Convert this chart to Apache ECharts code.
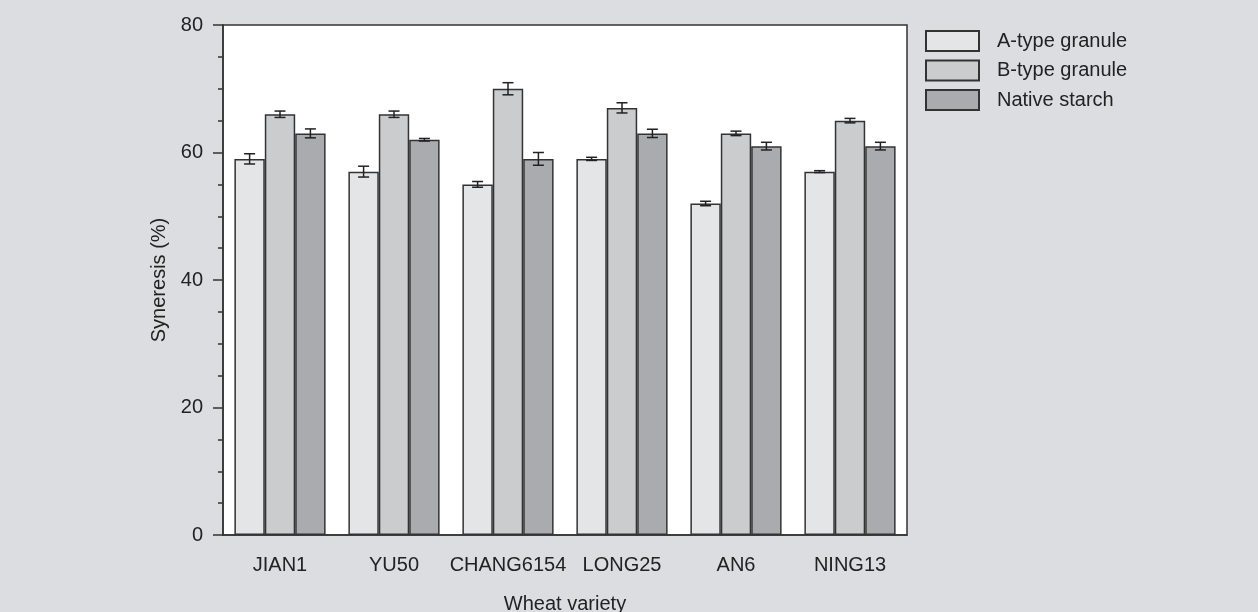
<!DOCTYPE html>
<html><head><meta charset="utf-8">
<script src="https://cdn.jsdelivr.net/npm/echarts@6/dist/echarts.min.js"></script>
<style>html,body{margin:0;padding:0;background:#dcdde0;} #c{width:1258px;height:612px;}</style>
</head><body><div id="c"></div>
<script>
const categories = ['JIAN1','YU50','CHANG6154','LONG25','AN6','NING13'];
const seriesNames = ['A-type granule','B-type granule','Native starch'];
const aType = [59,57,55,59,52,57];
const bType = [66,66,70,67,63,65];
const native = [63,62,59,63,61,61];
const aErr = [0.8,0.85,0.45,0.25,0.35,0.15];
const bErr = [0.5,0.5,0.95,0.8,0.35,0.35];
const nativeErr = [0.7,0.2,1.0,0.65,0.6,0.6];
const yMin = 0, yMax = 80, yStep = 20;

const FONT = "'Liberation Sans Narrow','Arial Narrow','Liberation Sans',Arial,sans-serif";
const FS = 20;
const colors = ['#e4e5e7','#cbccce','#aaabae'];
const values = [aType, bType, native];
const errs = [aErr, bErr, nativeErr];

function errRender(si){
  return function(params, api){
    const ci = api.value(0), v = api.value(1), e = api.value(2);
    const bandW = api.size([1,0])[0];
    const barW = bandW*0.8/3;
    const cx = api.coord([ci, v])[0] + (si-1)*barW;
    const yT = api.coord([ci, v+e])[1], yB = api.coord([ci, v-e])[1];
    const cap = 5.5;
    const st = {stroke:'#222', lineWidth:1.5};
    return {type:'group', children:[
      {type:'line', shape:{x1:cx,y1:yT,x2:cx,y2:yB}, style:st},
      {type:'line', shape:{x1:cx-cap,y1:yT,x2:cx+cap,y2:yT}, style:st},
      {type:'line', shape:{x1:cx-cap,y1:yB,x2:cx+cap,y2:yB}, style:st}
    ]};
  };
}

const series = [];
seriesNames.forEach((n,i)=>{
  series.push({name:n, type:'bar', data:values[i], barGap:'0%', barCategoryGap:'20%',
    itemStyle:{color:colors[i], borderColor:'#333', borderWidth:1.5}, silent:true});
});
seriesNames.forEach((n,i)=>{
  series.push({name:n+' err', type:'custom', renderItem:errRender(i), z:10, silent:true,
    encode:{x:0,y:1}, data:values[i].map((v,k)=>[k,v,errs[i][k]])});
});

const chart = echarts.init(document.getElementById('c'));
chart.setOption({
  animation:false,
  backgroundColor:'#dcdde0',
  textStyle:{fontFamily:FONT},
  grid:{left:223, right:351, top:25, bottom:77, outerBoundsMode:'none', containLabel:false,
    show:true, backgroundColor:'#ffffff', borderColor:'#333', borderWidth:1.5},
  legend:{data:seriesNames, icon:'rect', orient:'vertical', left:925, top:30, padding:0,
    itemWidth:53, itemHeight:20, itemGap:7.5,
    textStyle:{fontFamily:FONT, fontSize:FS, lineHeight:20, color:'#222', padding:[0,0,0,13]}},
  xAxis:[
    {type:'category', data:categories, position:'bottom',
      name:'Wheat variety', nameLocation:'middle', nameGap:59,
      nameTextStyle:{fontFamily:FONT, fontSize:FS, color:'#222'},
      axisLine:{lineStyle:{color:'#333', width:1.5}},
      axisTick:{alignWithLabel:false, length:5, lineStyle:{color:'#333', width:1.5}},
      axisLabel:{interval:0, fontFamily:FONT, fontSize:FS, color:'#222', margin:20}},
    {type:'category', data:categories, position:'bottom', offset:0,
      axisLine:{show:false}, axisLabel:{show:false},
      axisTick:{alignWithLabel:true, interval:0, length:10, lineStyle:{color:'#333', width:1.5}}}
  ],
  yAxis:{type:'value', min:yMin, max:yMax, interval:yStep,
    name:'Syneresis (%)', nameLocation:'middle', nameGap:50,
    nameTextStyle:{fontFamily:FONT, fontSize:FS, color:'#222'},
    axisLine:{show:true, lineStyle:{color:'#333', width:1.5}},
    axisTick:{show:true, length:10, lineStyle:{color:'#333', width:1.5}},
    minorTick:{show:true, splitNumber:4, length:5, lineStyle:{color:'#333', width:1.5}},
    splitLine:{show:false},
    axisLabel:{fontFamily:FONT, fontSize:FS, color:'#222', margin:20}},
  series:series
});
</script></body></html>
